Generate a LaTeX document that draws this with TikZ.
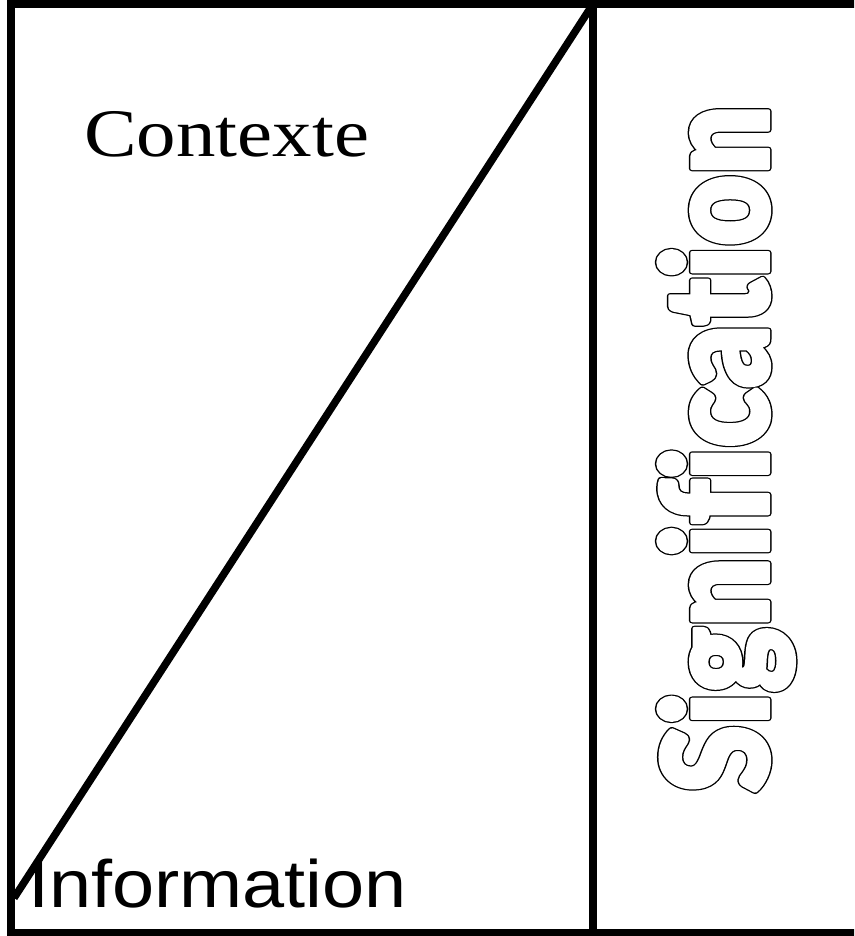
\documentclass[tikz,border=0pt]{standalone}
\usepackage{fontspec}
\setmainfont{Liberation Serif}
\newfontfamily\infofont{Liberation Sans}
\newfontfamily\sigfont{Lato Black}[Ligatures=NoCommon]
\usetikzlibrary{calc}
% stroked glyphs: #1 = pdf line width, #2 = text
\newcommand{\strokedtext}[2]{\special{pdf:literal direct 1 Tr 1 j #1 w}#2\special{pdf:literal direct 0 Tr}}
\newcommand{\filledtext}[2]{\special{pdf:literal direct 2 Tr 1 j #1 w 1 g 1 G}#2\special{pdf:literal direct 0 Tr}}
\tikzset{
	frameline/.style={black, line width=7.5pt},
	label/.style={inner sep=0pt, anchor=base west},
	sig/.style={label, rotate=90, xscale=0.837, font=\fontsize{146}{146}\selectfont\sigfont}
}

\begin{document}
\begin{tikzpicture}[x=1pt,y=1pt]
	\useasboundingbox (0,0) rectangle (854,936);
	\clip (0,0) rectangle (854,936);
	\coordinate (bl) at (11,3);
	\coordinate (tr) at (880,932);
	\coordinate (midtop) at (593,932);
	\coordinate (midbot) at (593,3);
	\coordinate (diagend) at (14,38);
	\draw[frameline] (bl) rectangle (tr);
	\draw[frameline] (midtop) -- (midbot);
	\draw[frameline] (midtop) -- (diagend);
	\node[label, xscale=1.16] (contexte) at (84,779) {\fontsize{68}{68}\selectfont Contexte};
	\node[label, xscale=1.13] (information) at (28,28) {\fontsize{67}{67}\selectfont\infofont Information};
	% outlined heavy lettering: black ring under a white body
	\node[sig] (sigring) at (768,143) {\strokedtext{7}{Signification}};
	\node[sig, text=white] (signification) at (768,143) {\filledtext{4}{Signification}};
\end{tikzpicture}
\end{document}
